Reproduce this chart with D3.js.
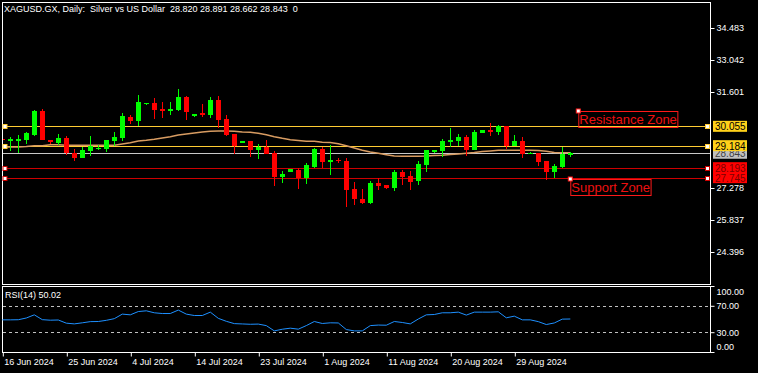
<!DOCTYPE html>
<html>
<head>
<meta charset="utf-8">
<script src="https://cdn.jsdelivr.net/npm/d3@7"></script>
<style>
  html, body { margin: 0; padding: 0; background: #000; }
  svg { display: block; }
  text { font-family: "Liberation Sans", Arial, sans-serif; font-size: 9px; white-space: pre; }
</style>
</head>
<body>
<svg id="chart" width="758" height="373"></svg>
<script>
// ---- data (daily XAGUSD bars, broker has Sunday bars) ----
const barDates = [
  "2024-06-16","2024-06-17","2024-06-18","2024-06-19","2024-06-20","2024-06-21","2024-06-23","2024-06-24","2024-06-25","2024-06-26",
  "2024-06-27","2024-06-28","2024-06-30","2024-07-01","2024-07-02","2024-07-03","2024-07-04","2024-07-05","2024-07-07","2024-07-08",
  "2024-07-09","2024-07-10","2024-07-11","2024-07-12","2024-07-14","2024-07-15","2024-07-16","2024-07-17","2024-07-18","2024-07-19",
  "2024-07-21","2024-07-22","2024-07-23","2024-07-24","2024-07-25","2024-07-26","2024-07-28","2024-07-29","2024-07-30","2024-07-31",
  "2024-08-01","2024-08-02","2024-08-04","2024-08-05","2024-08-06","2024-08-07","2024-08-08","2024-08-09","2024-08-11","2024-08-12",
  "2024-08-13","2024-08-14","2024-08-15","2024-08-16","2024-08-18","2024-08-19","2024-08-20","2024-08-21","2024-08-22","2024-08-23",
  "2024-08-25","2024-08-26","2024-08-27","2024-08-28","2024-08-29","2024-08-30","2024-09-01","2024-09-02","2024-09-03","2024-09-04",
  "2024-09-05","2024-09-06"
];
const opens = [
  29.50,29.395,29.395,29.440,29.665,30.759,29.440,29.319,29.544,28.855,
  28.643,28.945,29.050,29.035,29.395,29.517,30.476,30.310,31.060,31.106,
  30.836,30.746,30.791,31.376,30.521,30.642,30.566,31.241,30.386,29.710,
  29.319,29.395,28.990,29.140,28.870,27.760,28.013,28.090,27.716,28.238,
  29.035,28.463,28.540,28.495,27.248,26.784,26.590,27.504,27.400,27.279,
  27.999,27.819,27.594,28.315,28.914,28.945,29.350,29.395,29.575,28.990,
  29.769,29.890,29.800,30.057,29.170,29.395,28.810,28.855,28.495,27.999,
  28.225,28.820
];
const highs = [
  29.52,29.562,29.665,29.800,30.777,30.820,29.450,29.710,29.620,29.050,
  29.140,29.620,29.200,29.450,29.800,30.642,30.580,31.466,31.120,31.318,
  31.151,31.151,31.736,31.400,30.630,31.061,31.376,31.421,30.566,29.720,
  29.400,29.410,29.260,29.440,28.932,28.044,28.150,28.166,28.418,29.094,
  29.140,29.215,28.630,28.616,27.549,27.248,27.594,27.716,27.420,28.090,
  28.090,28.058,28.495,29.000,29.000,29.485,29.980,29.710,29.650,29.890,
  29.900,30.219,30.116,30.070,29.665,29.575,28.880,28.870,28.510,28.360,
  29.140,28.891
];
const lows = [
  29.43,28.960,28.840,29.260,29.640,29.420,29.260,29.215,28.765,28.495,
  28.620,28.720,28.990,28.914,29.170,29.410,30.174,30.070,31.000,30.386,
  30.444,30.566,30.746,30.341,30.476,30.490,30.444,29.994,29.640,28.810,
  29.310,28.690,28.600,28.800,27.369,27.517,28.000,27.248,27.472,28.166,
  28.166,27.864,28.418,26.437,26.514,26.545,26.570,27.189,27.234,27.158,
  27.400,27.176,27.414,28.013,28.870,28.690,29.140,29.170,28.734,28.970,
  29.760,29.620,29.665,29.035,29.150,28.630,28.800,28.270,27.639,27.729,
  28.200,28.662
];
const closes = [
  29.45,29.485,29.485,29.755,30.746,29.440,29.364,29.544,28.841,28.630,
  28.990,29.170,29.094,29.427,29.575,30.521,30.296,31.138,31.106,30.805,
  30.746,30.836,31.376,30.701,30.624,30.566,31.241,30.341,29.665,29.170,
  29.395,28.990,29.140,28.810,27.774,27.923,28.121,27.716,28.315,29.035,
  28.450,28.540,28.480,27.189,26.784,26.617,27.504,27.369,27.290,27.999,
  27.760,27.563,28.360,28.990,28.976,29.395,29.440,29.575,29.004,29.800,
  29.890,29.800,30.057,29.170,29.395,28.810,28.870,28.450,27.999,28.270,
  28.823,28.843
];
const maValues = [
  29.125,29.125,29.125,29.148,29.184,29.184,29.229,29.229,29.202,29.202,
  29.202,29.202,29.202,29.202,29.202,29.260,29.319,29.395,29.427,29.472,
  29.530,29.589,29.665,29.710,29.755,29.800,29.832,29.845,29.845,29.832,
  29.800,29.787,29.742,29.679,29.589,29.517,29.454,29.418,29.382,29.382,
  29.337,29.328,29.274,29.184,29.080,28.976,28.900,28.841,28.778,28.720,
  28.706,28.706,28.706,28.720,28.742,28.751,28.787,28.810,28.841,28.877,
  28.922,28.945,28.976,28.976,28.976,28.976,28.976,28.967,28.931,28.877,
  28.868,28.868
];
const rsiValues = [
  48.7,48.7,48.9,51.5,56.3,49.0,48.2,48.5,43.7,42.6,
  44.2,46.0,46.2,48.0,50.5,57.4,56.3,61.3,62.4,59.4,
  58.3,58.3,63.5,57.4,55.3,55.3,60.4,51.0,46.5,43.0,
  42.5,42.0,42.3,40.0,32.0,34.5,36.1,34.6,40.0,46.2,
  43.2,44.2,44.0,34.0,32.0,32.0,40.0,40.8,40.6,46.2,
  44.7,42.6,50.0,56.3,56.8,59.4,59.4,60.4,55.9,60.4,
  60.4,60.4,60.9,51.8,54.3,48.7,48.7,46.0,41.6,44.0,
  49.8,50.02
];
// 30.160 and 28.719 sit under the price tags in the reference, so they are not drawn
const priceTicks = [34.483, 33.042, 31.601, 27.278, 25.837, 24.396];
const rsiTicks = [100, 70, 30, 0];
const rsiLevels = [70, 30];
const dateTicks = ["2024-06-16","2024-06-25","2024-07-04","2024-07-14","2024-07-23","2024-08-01","2024-08-11","2024-08-20","2024-08-29"];
const resistanceLevels = [30.055, 29.184];
const supportLevels = [28.193, 27.745];
const lastPrice = 28.843;
const zoneLabels = [
  { text: "Resistance Zone", bar: 72, price: 30.746 },
  { text: "Support Zone", bar: 71, price: 27.684 }
];
const titleText = "XAGUSD.GX, Daily:  Silver vs US Dollar  28.820 28.891 28.662 28.843  0";
const rsiTitle = "RSI(14) 50.02";

// ---- layout ----
const panelLeft = 2, panelRight = 710;
const mainTop = 2, mainBottom = 284;
const rsiTop = 286, rsiBottom = 352;

const svg = d3.select("#chart");

const x = d3.scaleLinear().domain([0, barDates.length - 1]).range([2.3, 570.3]);
const y = d3.scaleLinear().domain([24.396, 34.483]).range([252, 28]);
const rsiY = d3.scaleLinear().domain([0, 100]).range([rsiBottom, rsiTop]);

svg.append("defs").append("clipPath").attr("id", "mainClip")
  .append("rect")
    .attr("x", panelLeft + 1).attr("y", mainTop + 1)
    .attr("width", panelRight - panelLeft - 1).attr("height", mainBottom - mainTop - 1);

// panel frames
svg.append("rect")
  .attr("x", panelLeft + 0.5).attr("y", mainTop + 0.5)
  .attr("width", panelRight - panelLeft).attr("height", mainBottom - mainTop)
  .attr("fill", "none").attr("stroke", "#fff");
svg.append("rect")
  .attr("x", panelLeft + 0.5).attr("y", rsiTop + 0.5)
  .attr("width", panelRight - panelLeft).attr("height", rsiBottom - rsiTop)
  .attr("fill", "none").attr("stroke", "#fff");

const plot = svg.append("g").attr("clip-path", "url(#mainClip)");

// horizontal levels
plot.append("line")
  .attr("x1", panelLeft).attr("x2", panelRight)
  .attr("y1", Math.round(y(lastPrice)) + 0.5).attr("y2", Math.round(y(lastPrice)) + 0.5)
  .attr("stroke", "#c8c8c8");

const levelData = resistanceLevels.map(v => ({ v, color: "#ffcc33" }))
  .concat(supportLevels.map(v => ({ v, color: "#cc0000" })));

plot.selectAll(".level")
  .data(levelData)
  .join("line")
    .attr("class", "level")
    .attr("x1", panelLeft).attr("x2", panelRight)
    .attr("y1", d => Math.round(y(d.v)) + 0.5).attr("y2", d => Math.round(y(d.v)) + 0.5)
    .attr("stroke", d => d.color);

// moving average
plot.append("path")
  .datum(maValues)
  .attr("fill", "none")
  .attr("stroke", "#d89c62")
  .attr("stroke-width", 1.5)
  .attr("d", d3.line().x((d, i) => x(i)).y(d => y(d)));

// candles
const candles = plot.selectAll(".candle")
  .data(barDates.map((d, i) => ({ i, o: opens[i], h: highs[i], l: lows[i], c: closes[i] })))
  .join("g")
    .attr("class", "candle")
    .attr("shape-rendering", "crispEdges");

candles.append("line")
  .attr("x1", d => Math.round(x(d.i)) + 0.5).attr("x2", d => Math.round(x(d.i)) + 0.5)
  .attr("y1", d => y(d.h)).attr("y2", d => y(d.l))
  .attr("stroke", d => d.c >= d.o ? "#00ff00" : "#ff0000");

candles.append("rect")
  .attr("x", d => Math.round(x(d.i)) - 2)
  .attr("width", 5)
  .attr("y", d => y(Math.max(d.o, d.c)))
  .attr("height", d => Math.max(1.5, Math.abs(y(d.o) - y(d.c))))
  .attr("fill", d => d.c >= d.o ? "#00ff00" : "#ff0000");

// handles on the drawn levels
levelData.forEach(d => {
  [5, 707.5].forEach(hx => {
    svg.append("rect")
      .attr("x", hx - 2).attr("y", Math.round(y(d.v)) - 1.5)
      .attr("width", 4).attr("height", 4)
      .attr("fill", "#fff").attr("stroke", d.color);
  });
});

// zone labels
zoneLabels.forEach(z => {
  const zx = x(z.bar), zy = y(z.price);
  const t = svg.append("text")
    .attr("x", zx + 1).attr("y", zy + 13.3)
    .style("font-size", "13px")
    .attr("fill", "#ee1111")
    .text(z.text);
  const w = t.node().getComputedTextLength();
  svg.insert("rect", "text")
    .attr("x", zx + 0.5).attr("y", zy + 0.5)
    .attr("width", w + 1.5).attr("height", 16)
    .attr("fill", "none").attr("stroke", "#ff1a1a");
  svg.append("rect")
    .attr("x", zx - 2).attr("y", zy - 2)
    .attr("width", 4).attr("height", 4)
    .attr("fill", "#fff").attr("stroke", "#ff1a1a");
});

// price axis
const yAxis = svg.append("g")
  .attr("transform", `translate(${panelRight + 0.5},0)`)
  .call(d3.axisRight(y).tickValues(priceTicks).tickSize(4).tickPadding(2).tickFormat(d3.format(".3f")));
yAxis.select(".domain").remove();
yAxis.selectAll("line").attr("stroke", "#fff");
yAxis.selectAll("text").attr("fill", "#fff").style("font-size", "9px").style("font-family", "Liberation Sans, Arial, sans-serif");

// price tags on the right
const tags = [
  { v: lastPrice, bg: "#c0c0c0", fg: "#404040" },
  { v: resistanceLevels[0], bg: "#ffd11a", fg: "#000" },
  { v: resistanceLevels[1], bg: "#ffd11a", fg: "#000" },
  { v: supportLevels[0], bg: "#ff0000", fg: "#7a0000" },
  { v: supportLevels[1], bg: "#ff0000", fg: "#7a0000" }
];
tags.forEach(t => {
  const ty = y(t.v);
  svg.append("rect")
    .attr("x", 713).attr("y", ty - 5.5).attr("width", 34).attr("height", 11)
    .attr("fill", t.bg);
  svg.append("text")
    .attr("x", 715).attr("y", ty + 4)
    .style("font-size", "10px")
    .attr("fill", t.fg)
    .text(d3.format(".3f")(t.v));
});

// RSI panel
svg.selectAll(".rsiLevel")
  .data(rsiLevels)
  .join("line")
    .attr("class", "rsiLevel")
    .attr("x1", panelLeft + 1).attr("x2", panelRight)
    .attr("y1", d => Math.round(rsiY(d)) + 0.5).attr("y2", d => Math.round(rsiY(d)) + 0.5)
    .attr("stroke", "#c0c0c0").attr("stroke-dasharray", "3,3");

svg.append("path")
  .datum(rsiValues)
  .attr("fill", "none")
  .attr("stroke", "#1e90ff")
  .attr("stroke-width", 1)
  .attr("d", d3.line().x((d, i) => x(i)).y(d => rsiY(d)));

const rAxis = svg.append("g")
  .attr("transform", `translate(${panelRight + 0.5},0)`)
  .call(d3.axisRight(rsiY).tickValues(rsiTicks).tickSize(4).tickPadding(2).tickFormat(d3.format(".2f")));
rAxis.select(".domain").remove();
rAxis.selectAll("line").attr("stroke", "#fff");
rAxis.selectAll("text")
  .attr("fill", "#fff").style("font-size", "9px").style("font-family", "Liberation Sans, Arial, sans-serif")
  .attr("dy", d => d === 100 ? "0.95em" : d === 0 ? "-0.3em" : "0.32em");

svg.append("text")
  .attr("x", 5).attr("y", 298)
  .attr("fill", "#fff")
  .text(rsiTitle);

// time axis
const parseDate = d3.timeParse("%Y-%m-%d");
const fmtDate = d3.timeFormat("%-d %b %Y");
const xAxis = svg.append("g")
  .attr("transform", `translate(0.5,${rsiBottom + 0.5})`)
  .call(d3.axisBottom(x)
    .tickValues(dateTicks.map(d => barDates.indexOf(d)))
    .tickSize(4).tickPadding(2)
    .tickFormat(i => fmtDate(parseDate(barDates[i]))));
xAxis.select(".domain").remove();
xAxis.selectAll("line").attr("stroke", "#fff");
xAxis.selectAll("text")
  .attr("fill", "#fff").attr("text-anchor", "start").attr("dx", "1")
  .style("font-size", "9px").style("font-family", "Liberation Sans, Arial, sans-serif");

// title
svg.append("text")
  .attr("x", 4).attr("y", 12)
  .attr("fill", "#fff")
  .text(titleText);
</script>
</body>
</html>
